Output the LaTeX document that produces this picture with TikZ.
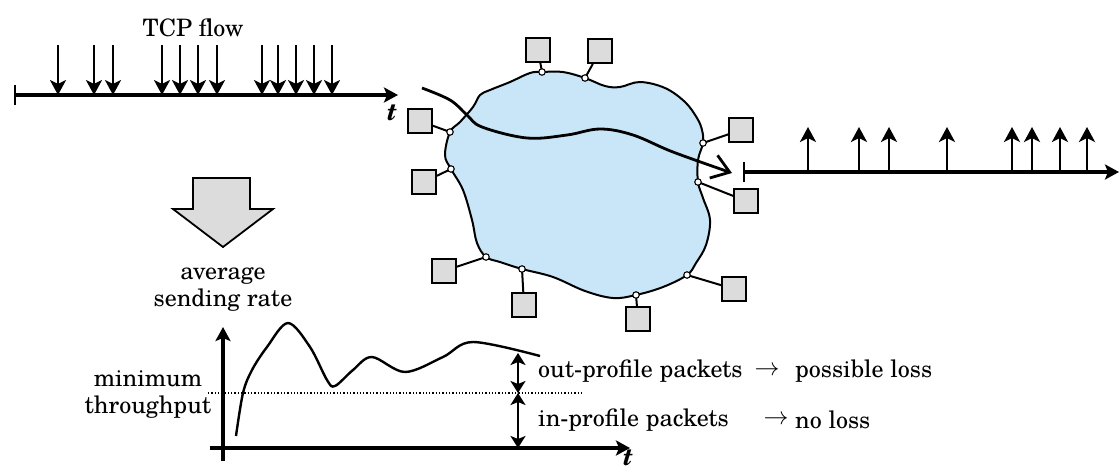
\documentclass[tikz,border=0pt]{standalone}
\usepackage{fontspec}
\setmainfont{TeX Gyre Schola}
\usetikzlibrary{arrows.meta}
\definecolor{boxgray}{RGB}{220,220,220}
\definecolor{cloudblue}{RGB}{200,230,247}
\begin{document}
\begin{tikzpicture}[x=1pt,y=-1pt,
  font=\fontsize{24}{27}\selectfont,
  axisline/.style={line width=3.3pt,-{Stealth[length=14pt,width=15pt,inset=3pt]}},
  barstart/.style={{Bar[width=20pt,line width=2.2pt]}-{Stealth[length=14pt,width=15pt,inset=3pt]}},
  pktarrow/.style={line width=2.8pt,-{Stealth[length=15pt,width=16pt,inset=4pt]}},
  dbl/.style={line width=2.8pt,{Stealth[length=12pt,width=15pt,inset=3pt]}-{Stealth[length=12pt,width=15pt,inset=3pt]}},
  host/.style={draw,fill=boxgray,line width=1.8pt,minimum size=24pt,inner sep=0pt},
  port/.style={circle,draw,fill=white,line width=1.1pt,inner sep=0pt,minimum size=6.5pt},
  link/.style={line width=2pt},
  lbl/.style={inner sep=0pt}]
\useasboundingbox (0,0) rectangle (1119,469);

% ---------- top-left timeline ----------
\coordinate (tl0) at (14,95);
\coordinate (tl1) at (398,95);
\draw[line width=3.3pt,barstart] (tl0) -- (tl1);
\foreach \x in {58,94,113,162,180,198,217,262,278,296,314,332}
  \draw[pktarrow] (\x,45) -- (\x,95);
\node[lbl] (tcp) at (193,28) {TCP flow};
\node[lbl] (t1) at (392,113) {\textbf{\textit{t}}};

% ---------- cloud ----------
\fill[cloudblue] plot[smooth cycle,tension=0.6] coordinates {
 (450,132) (460,122) (473,107) (480,95) (490,90) (510,82) (530,73) (542,72)
 (563,72) (585,78) (605,86) (620,87) (640,82) (665,88) (685,102) (697,118)
 (702,130) (703,143) (698,160) (698,182) (703,198) (710,220) (706,245)
 (696,263) (687,275) (663,287) (636,295) (613,298) (585,291) (553,277)
 (522,269) (500,262) (486,257) (477,243) (472,220) (463,190) (451,169) (445,155)};
\draw[line width=2pt] plot[smooth cycle,tension=0.6] coordinates {
 (450,132) (460,122) (473,107) (480,95) (490,90) (510,82) (530,73) (542,72)
 (563,72) (585,78) (605,86) (620,87) (640,82) (665,88) (685,102) (697,118)
 (702,130) (703,143) (698,160) (698,182) (703,198) (710,220) (706,245)
 (696,263) (687,275) (663,287) (636,295) (613,298) (585,291) (553,277)
 (522,269) (500,262) (486,257) (477,243) (472,220) (463,190) (451,169) (445,155)};

% flow through the cloud
\draw[line width=2.8pt,-{Straight Barb[length=17pt,width=24pt,line width=2.8pt]}]
  plot[smooth,tension=0.6] coordinates {(422,88) (450,100) (467,115) (482,127)
  (527,138) (567,135) (600,129) (633,135) (673,152) (732,173)};

% hosts
\node[host] (h1) at (538,50) {};
\node[host] (h2) at (600,51) {};
\node[host] (h3) at (741,130) {};
\node[host] (h4) at (746,201) {};
\node[host] (h5) at (420,121) {};
\node[host] (h6) at (424,182) {};
\node[host] (h7) at (444,271) {};
\node[host] (h8) at (524,305) {};
\node[host] (h9) at (638,319) {};
\node[host] (h10) at (734,289) {};

\coordinate (p1) at (542,72);
\coordinate (p2) at (585,78);
\coordinate (p3) at (703,143);
\coordinate (p4) at (698,182);
\coordinate (p5) at (450,132);
\coordinate (p6) at (451,169);
\coordinate (p7) at (486,257);
\coordinate (p8) at (522,269);
\coordinate (p9) at (636,295);
\coordinate (p10) at (687,275);
\foreach \i in {1,...,10} {
  \draw[link] (p\i) -- (h\i);
  \node[port] at (p\i) {};
}

% ---------- right timeline ----------
\coordinate (tr0) at (743,172);
\coordinate (tr1) at (1119,172);
\draw[line width=3.3pt,barstart] (tr0) -- (tr1);
\foreach \x in {808,859,889,947,1012,1032,1060,1087}
  \draw[pktarrow] (\x,172) -- (\x,127);

% ---------- big gray arrow ----------
\draw[line width=1.8pt,fill=boxgray,line join=miter]
  (193,178) -- (250,178) -- (250,209) -- (273,209) -- (223,247)
  -- (173,209) -- (193,209) -- cycle;
\node[lbl,align=center] (avg) at (223,289) {average\\sending rate};

% ---------- graph ----------
\coordinate (ya0) at (223,461);
\coordinate (ya1) at (223,327);
\coordinate (xa0) at (210,448);
\coordinate (xa1) at (630,448);
\draw[axisline] (ya0) -- (ya1);
\draw[axisline] (xa0) -- (xa1);
\node[lbl] (t2) at (628,458) {\textbf{\textit{t}}};
\draw[line width=1.3pt,dotted] (208,393) -- (583,393);
\node[lbl,align=center] (minthr) at (148,395) {minimum\\throughput};
\draw[line width=2.4pt] plot[smooth,tension=0.55] coordinates {
 (236,436) (243,393) (252,370) (267,347) (288,323) (310,347) (327,380)
 (335,386) (353,370) (372,357) (405,372) (443,357) (473,342) (540,356)};
\coordinate (d0) at (518,353);
\coordinate (d1) at (518,393);
\coordinate (d2) at (518,448);
\draw[dbl] (d0) -- (d1);
\draw[dbl] (d1) -- (d2);

\node[lbl,anchor=west] (outp) at (538,371) {out-profile packets};
\node[lbl] (ar1) at (767,371) {$\rightarrow$};
\node[lbl,anchor=west] (loss1) at (795,371) {possible loss};
\node[lbl,anchor=west] (inp) at (538,420) {in-profile packets};
\node[lbl] (ar2) at (776,420) {$\rightarrow$};
\node[lbl,anchor=west] (loss2) at (795,420) {no loss};
\end{tikzpicture}
\end{document}
